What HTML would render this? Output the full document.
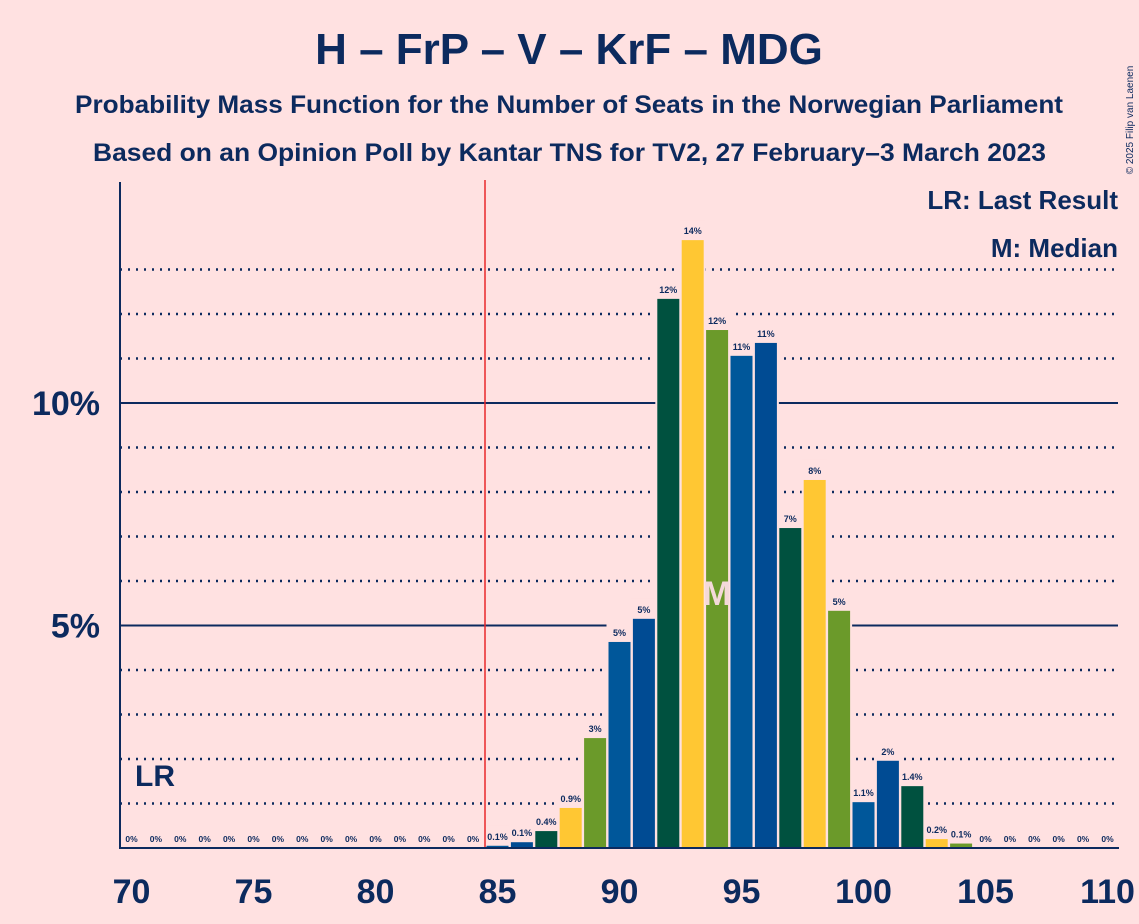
<!DOCTYPE html>
<html><head><meta charset="utf-8"><style>
body{margin:0;background:#FFE1E1;font-family:"Liberation Sans",sans-serif}
</style></head><body>
<svg width="1139" height="924" xmlns="http://www.w3.org/2000/svg" style="display:block">
<rect width="1139" height="924" fill="#FFE1E1"/>
<text x="569" y="64" text-anchor="middle" font-size="44" font-weight="bold" fill="#0C2A5E">H – FrP – V – KrF – MDG</text>
<text x="75" y="113" textLength="988" lengthAdjust="spacingAndGlyphs" font-size="25" font-weight="bold" fill="#0C2A5E">Probability Mass Function for the Number of Seats in the Norwegian Parliament</text>
<text x="93" y="161" textLength="953" lengthAdjust="spacingAndGlyphs" font-size="25" font-weight="bold" fill="#0C2A5E">Based on an Opinion Poll by Kantar TNS for TV2, 27 February–3 March 2023</text>
<text x="1133" y="120" font-size="10" fill="#0C2A5E" transform="rotate(-90 1133 120)" text-anchor="middle">© 2025 Filip van Laenen</text>
<g id="grid"></g>
<g id="bars"></g>
<line x1="485" y1="180" x2="485" y2="848" stroke="#E8282B" stroke-width="1.5"/>
<line x1="120" y1="182" x2="120" y2="849" stroke="#0C2A5E" stroke-width="2"/>
<line x1="119" y1="848" x2="1119" y2="848" stroke="#0C2A5E" stroke-width="2"/>
<text x="1118" y="209" text-anchor="end" font-size="26" font-weight="bold" fill="#0C2A5E">LR: Last Result</text>
<text x="1118" y="257" text-anchor="end" font-size="26" font-weight="bold" fill="#0C2A5E">M: Median</text>
<text x="135" y="786" font-size="30" font-weight="bold" fill="#0C2A5E">LR</text>
<g id="xt"></g><g id="yt"></g>
</svg>
<script>
const seats=[70,71,72,73,74,75,76,77,78,79,80,81,82,83,84,85,86,87,88,89,90,91,92,93,94,95,96,97,98,99,100,101,102,103,104,105,106,107,108,109,110];
const values=[0,0,0,0,0,0,0,0,0,0,0,0,0,0,0,0.05,0.13,0.38,0.9,2.47,4.63,5.15,12.34,13.66,11.64,11.06,11.35,7.19,8.27,5.33,1.03,1.96,1.39,0.2,0.1,0,0,0,0,0,0];
const labels=["0%","0%","0%","0%","0%","0%","0%","0%","0%","0%","0%","0%","0%","0%","0%","0.1%","0.1%","0.4%","0.9%","3%","5%","5%","12%","14%","12%","11%","11%","7%","8%","5%","1.1%","2%","1.4%","0.2%","0.1%","0%","0%","0%","0%","0%","0%"];
const xTicks=[70,75,80,85,90,95,100,105,110];
const yTicks=[5,10];
const medianSeat=94;
const NS="http://www.w3.org/2000/svg";
const X=s=>131.5+(s-70)*24.4;
const Y=v=>848-v*44.5;
const colors=["#00513F","#FFC733","#6B9A2A","#00579A","#004B93"];
function mk(t,a,p){const e=document.createElementNS(NS,t);for(const k in a)e.setAttribute(k,a[k]);p.appendChild(e);return e;}
const grid=document.getElementById('grid');
for(let v=1;v<=13;v++){
 const major=v%5===0;
 const l=mk('line',{x1:120,x2:1118,y1:Y(v),y2:Y(v),stroke:'#0C2A5E','stroke-width':major?2:2.5,'stroke-dasharray':major?'none':'2 6'},grid);
 
 
}
const yt=document.getElementById('yt');
yTicks.forEach(v=>{const t=mk('text',{x:100,y:Y(v)+12,'text-anchor':'end','font-size':34,'font-weight':'bold',fill:'#0C2A5E'},yt);t.textContent=v+'%';
 });
const xt=document.getElementById('xt');
xTicks.forEach(s=>{const t=mk('text',{x:X(s),y:903,'text-anchor':'middle','font-size':34,'font-weight':'bold',fill:'#0C2A5E'},xt);t.textContent=s;
 });
const bars=document.getElementById('bars');
seats.forEach((s,i)=>{
 const v=values[i];
 if(v>0){
  mk('rect',{x:X(s)-13,y:Y(v)-20,width:26,height:848-Y(v)+20,fill:'#FFE1E1'},bars);
  const r=mk('rect',{x:X(s)-11,y:Y(v),width:22,height:848-Y(v),fill:colors[((s-87)%5+5)%5]},bars);
  
  
 }
 const t=mk('text',{x:X(s),y:Y(v)-6,'text-anchor':'middle','font-size':v>0?9:8.5,'font-weight':'bold',fill:'#0C2A5E'},bars);
 t.textContent=labels[i];
 
 
});
const m=mk('text',{x:X(medianSeat),y:605,'text-anchor':'middle','font-size':34,'font-weight':'bold',fill:'#F4D9D9'},bars);
m.textContent='M';


</script>
</body></html>
